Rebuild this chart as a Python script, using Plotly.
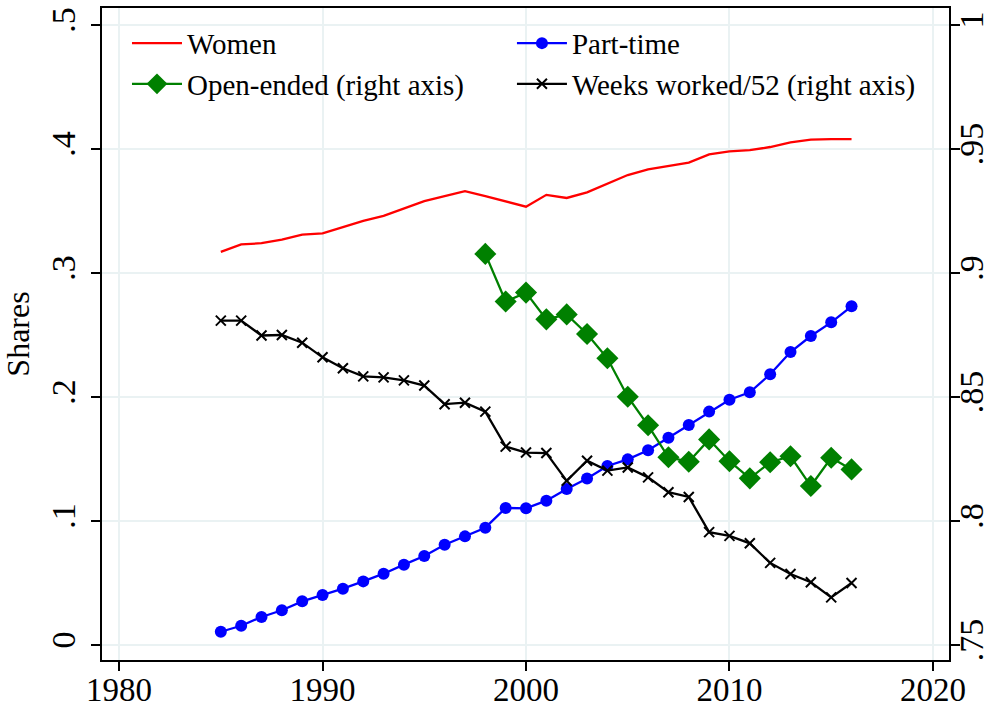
import plotly.graph_objects as go

years = list(range(1985, 2017))
women = [0.317, 0.323, 0.324, 0.327, 0.331, 0.332, 0.337, 0.342, 0.346, 0.352,
         0.358, 0.362, 0.366, 0.362, 0.3575, 0.3535, 0.363, 0.3605, 0.365, 0.372,
         0.379, 0.3836, 0.3863, 0.389, 0.3957, 0.398, 0.399, 0.4016, 0.4053, 0.4075,
         0.408, 0.408]
part_time = [0.0107, 0.0155, 0.0226, 0.028, 0.0352, 0.0403, 0.0454, 0.0513, 0.0575, 0.0648,
             0.0718, 0.0809, 0.0876, 0.0946, 0.1105, 0.1102, 0.1164, 0.1258, 0.1342, 0.1444,
             0.1497, 0.157, 0.1672, 0.1774, 0.1882, 0.1978, 0.2038, 0.2183, 0.2363, 0.2492,
             0.2602, 0.2731]
years_open = list(range(1998, 2017))
open_ended = [0.9077, 0.8885, 0.8921, 0.8813, 0.8833, 0.8754, 0.8656, 0.8501, 0.8386, 0.8257,
              0.8239, 0.8329, 0.8241, 0.8172, 0.8237, 0.8261, 0.8141, 0.8255, 0.8208]
weeks = [0.8808, 0.8808, 0.8748, 0.875, 0.8719, 0.866, 0.8616, 0.8583, 0.8579, 0.8567,
         0.8546, 0.8471, 0.8477, 0.8441, 0.83, 0.8276, 0.8274, 0.8162, 0.8243, 0.8203,
         0.8216, 0.8176, 0.8116, 0.8097, 0.7955, 0.794, 0.791, 0.7831, 0.7786, 0.7753,
         0.7692, 0.775]

x_ticks = [1980, 1990, 2000, 2010, 2020]
left_ticks = [0, 0.1, 0.2, 0.3, 0.4, 0.5]
left_labels = ["0", ".1", ".2", ".3", ".4", ".5"]
right_ticks = [0.75, 0.8, 0.85, 0.9, 0.95, 1.0]
right_labels = [".75", ".8", ".85", ".9", ".95", "1"]

FONT = "Liberation Serif, Times New Roman, serif"
GRID = "#eaf2f3"

fig = go.Figure()
fig.add_trace(go.Scatter(x=years, y=women, name="Women", mode="lines", legend="legend",
                         line=dict(color="#ff0000", width=2.3)))
fig.add_trace(go.Scatter(x=years, y=part_time, name="Part-time", mode="lines+markers",
                         legend="legend2",
                         line=dict(color="#0000ff", width=2.3),
                         marker=dict(symbol="circle", size=12, color="#0000ff")))
fig.add_trace(go.Scatter(x=years_open, y=open_ended, name="Open-ended (right axis)",
                         mode="lines+markers", yaxis="y2", legend="legend",
                         line=dict(color="#008000", width=2.3),
                         marker=dict(symbol="diamond", size=17, color="#008000")))
fig.add_trace(go.Scatter(x=years, y=weeks, name="Weeks worked/52 (right axis)",
                         mode="lines+markers", yaxis="y2", legend="legend2",
                         line=dict(color="#000000", width=2.3),
                         marker=dict(symbol="x-thin", size=10,
                                     line=dict(color="#000000", width=2))))

leg_common = dict(orientation="v", y=0.985, yanchor="top", xanchor="left",
                  bgcolor="rgba(0,0,0,0)", font=dict(size=29, family=FONT),
                  itemwidth=50, tracegroupgap=0, traceorder="normal")

fig.update_layout(
    width=992, height=710,
    margin=dict(l=102, r=43, t=8, b=50),
    paper_bgcolor="white", plot_bgcolor="white",
    font=dict(family=FONT, color="black", size=32),
    showlegend=True,
    legend=dict(x=0.0295, **leg_common),
    legend2=dict(x=0.484, **leg_common),
    xaxis=dict(range=[1979.16, 2020.79], tickvals=x_ticks, ticks="outside",
               ticklen=9, tickwidth=1.5, tickcolor="black", automargin=False,
               ticklabelstandoff=-10,
               showgrid=True, gridcolor=GRID, gridwidth=1.5, zeroline=False,
               showline=True, linecolor="black", linewidth=2, mirror=True,
               tickfont=dict(size=33, family=FONT)),
    yaxis=dict(range=[-0.0121, 0.5137], tickvals=left_ticks, ticktext=left_labels,
               tickangle=-90, ticks="outside", ticklen=9, tickwidth=1.5, tickcolor="black",
               showgrid=True, gridcolor=GRID, gridwidth=1.5, zeroline=False,
               showline=True, linecolor="black", linewidth=2, mirror=True,
               automargin=False, ticklabelstandoff=2,
               tickfont=dict(size=34, family=FONT),
               title=dict(text="Shares", font=dict(size=32, family=FONT), standoff=7)),
    yaxis2=dict(range=[0.74395, 1.00685], overlaying="y", side="right",
                tickvals=right_ticks, ticktext=right_labels, tickangle=-90,
                ticks="outside", ticklen=9, tickwidth=1.5, tickcolor="black",
                showgrid=False, zeroline=False, automargin=False,
                ticklabelstandoff=-18,
                showline=True, linecolor="black", linewidth=2,
                tickfont=dict(size=34, family=FONT)),
)

fig.write_html("out.html", config={"displayModeBar": False},
               post_script="document.body.style.margin='0';document.body.style.overflow='hidden';")
